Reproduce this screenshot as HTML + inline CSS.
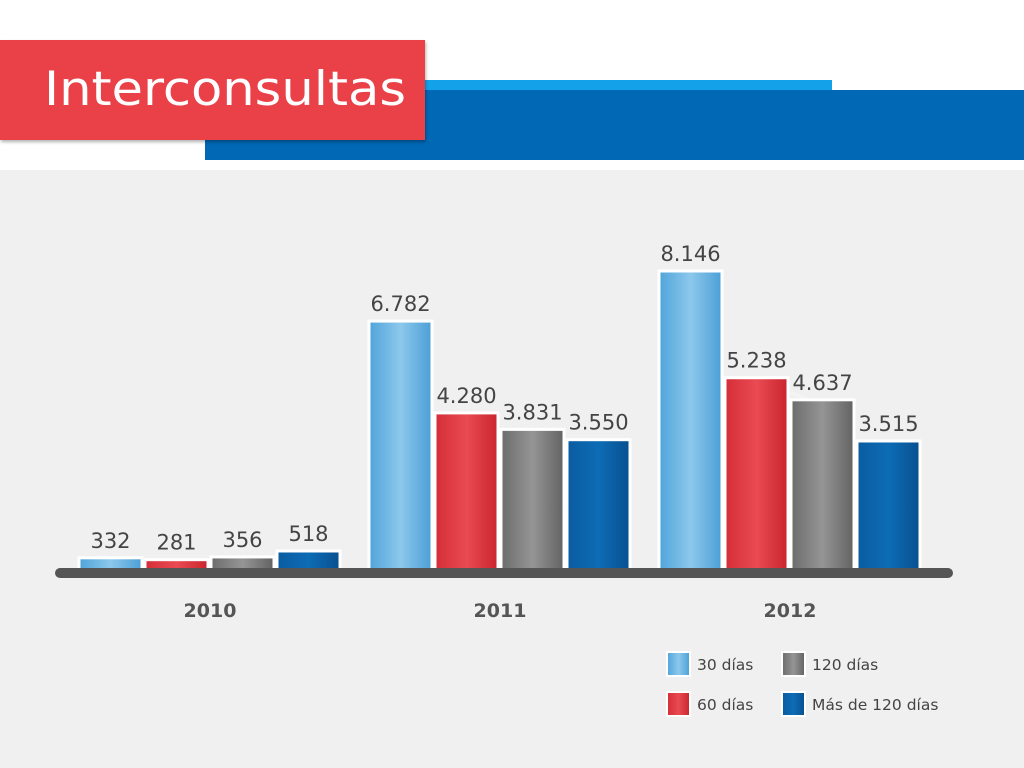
<!DOCTYPE html>
<html><head><meta charset="utf-8"><style>
body{margin:0;width:1024px;height:768px;overflow:hidden;background:#fff;font-family:"Liberation Sans","DejaVu Sans",sans-serif;position:relative}
.abs{position:absolute}
</style></head><body>
<div class="abs" style="left:0;top:170px;width:1024px;height:598px;background:#f0f0f0"></div>
<div class="abs" style="left:420px;top:80px;width:412px;height:12px;background:#13a2ea"></div>
<div class="abs" style="left:205px;top:90px;width:819px;height:70px;background:#0068b4"></div>
<div class="abs" style="left:0;top:40px;width:425px;height:100px;background:#ea4048;box-shadow:1px 2px 3px rgba(0,0,0,.3)"></div>
<div class="abs" style="left:44px;top:62px;font-size:47px;color:#fff;font-family:'DejaVu Sans Condensed','Liberation Sans Narrow','Liberation Sans',sans-serif;transform:scaleX(1.21);transform-origin:left top;white-space:nowrap">Interconsultas</div>
<svg class="abs" style="left:0;top:0" width="1024" height="768" id="chart">
<defs>
<linearGradient id="g0" x1="0" x2="1"><stop offset="0" stop-color="#4fa4da"/><stop offset=".5" stop-color="#8cc8ec"/><stop offset="1" stop-color="#4b9fd6"/></linearGradient>
<linearGradient id="g1" x1="0" x2="1"><stop offset="0" stop-color="#d42e38"/><stop offset=".5" stop-color="#ea4a52"/><stop offset="1" stop-color="#c9252f"/></linearGradient>
<linearGradient id="g2" x1="0" x2="1"><stop offset="0" stop-color="#6c6c6c"/><stop offset=".5" stop-color="#959595"/><stop offset="1" stop-color="#626262"/></linearGradient>
<linearGradient id="g3" x1="0" x2="1"><stop offset="0" stop-color="#0a5ca0"/><stop offset=".5" stop-color="#0d6cb5"/><stop offset="1" stop-color="#08508f"/></linearGradient>
</defs>
</svg>
<script>
const years=["2010","2011","2012"];
const s30=[332,6782,8146];
const s60=[281,4280,5238];
const s120=[356,3831,4637];
const sMas=[518,3550,3515];
const labels30=["332","6.782","8.146"];
const labels60=["281","4.280","5.238"];
const labels120=["356","3.831","4.637"];
const labelsMas=["518","3.550","3.515"];
const series=[s30,s60,s120,sMas];
const slabels=[labels30,labels60,labels120,labelsMas];
const names=["30-dias","60-dias","120-dias","mas-120-dias"];
const NS="http://www.w3.org/2000/svg";
const svg=document.getElementById('chart');
const base=570, scale=299/8146;
function y(v){return base-v*scale;}
function gx(i){return 79+i*290;}
function mk(t,a){const e=document.createElementNS(NS,t);for(const k in a)e.setAttribute(k,a[k]);svg.appendChild(e);return e;}
[[1,470,497,68],[2,768,478,88]].forEach(c=>{
 const e=mk('circle',{cx:c[1],cy:c[2],r:c[3],fill:'none',stroke:'rgba(255,255,255,0.25)','stroke-width':4});
 
 
});
series.forEach((s,si)=>{
 s.forEach((v,i)=>{
  const x=gx(i)+si*66, top=y(v), w=63;
  const r=mk('rect',{x:x,y:top,width:w,height:base-top,fill:'url(#g'+si+')',stroke:'#fff','stroke-width':3});
  
  
  const t=mk('text',{x:x+w/2,y:top-10,'text-anchor':'middle','font-size':21,fill:'#444','font-family':'DejaVu Sans, Liberation Sans, sans-serif'});
  t.textContent=slabels[si][i];
  
  
 });
});
const ax=mk('rect',{x:55,y:568,width:898,height:10,rx:5,fill:'#555'});


years.forEach((yr,i)=>{
 const t=mk('text',{x:gx(i)+131,y:617,'text-anchor':'middle','font-size':19,'font-weight':'bold',fill:'#555','font-family':'DejaVu Sans, Liberation Sans, sans-serif'});
 t.textContent=yr;
 
 
});
const leg=[["30 días",667,652,0],["120 días",782,652,2],["60 días",667,692,1],["Más de 120 días",782,692,3]];
leg.forEach(l=>{
 const r=mk('rect',{x:l[1],y:l[2],width:23,height:24,fill:'url(#g'+l[3]+')',stroke:'#fff','stroke-width':2});
 
 
 const t=mk('text',{x:l[1]+30,y:l[2]+18,'font-size':15.5,fill:'#444','font-family':'DejaVu Sans, Liberation Sans, sans-serif'});
 t.textContent=l[0];
 
 
});
</script>
</body></html>
